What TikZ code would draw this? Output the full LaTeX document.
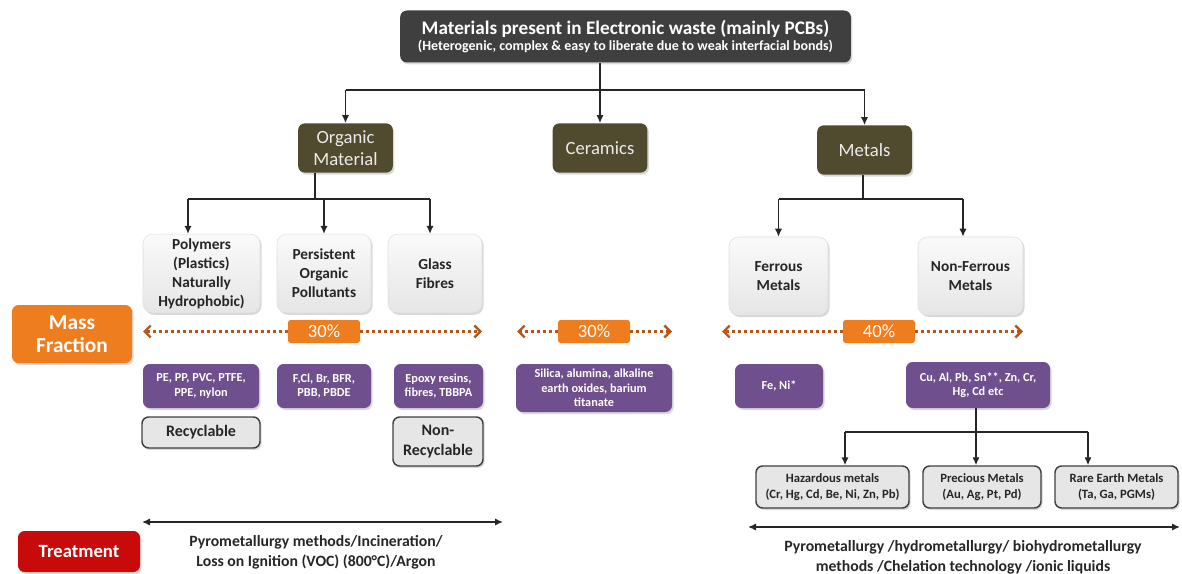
\documentclass[tikz,border=0pt]{standalone}
\usepackage{fontspec}
\setmainfont{Carlito}
\usetikzlibrary{arrows.meta,shadows,calc}
\definecolor{topgray}{HTML}{3F3F3F}
\definecolor{olive}{HTML}{504B2E}
\definecolor{purp}{HTML}{6F4F8D}
\definecolor{orng}{HTML}{EE7D1F}
\definecolor{redt}{HTML}{C80A0A}
\definecolor{dotcol}{HTML}{B4581A}
\definecolor{lgray}{HTML}{E6E6E6}
\begin{document}
\begin{tikzpicture}[x=0.75pt,y=-0.75pt,
  base/.style={rounded corners=5pt, align=center, inner sep=0pt},
  shad/.style={drop shadow={shadow xshift=1.2pt, shadow yshift=-1.5pt, opacity=0.3}},
  topbox/.style={base, shad, fill=topgray, text=white, minimum width=338pt, minimum height=39pt},
  olivebox/.style={base, shad, fill=olive, text=white!92!black, font=\fontsize{14}{16.5}\selectfont, minimum width=71pt, minimum height=37pt},
  graybox/.style={base, shad, rounded corners=7pt, draw=gray!25, top color=gray!4, bottom color=gray!20, text=black!85, font=\bfseries\fontsize{11.5}{14.2}\selectfont, minimum height=59pt},
  purplebox/.style={base, shad, fill=purp, text=white, font=\bfseries\fontsize{9.2}{11}\selectfont, minimum height=33pt},
  labelbox/.style={base, shad, fill=lgray, draw=black!75, line width=1.1pt, rounded corners=5pt, text=black!85},
  orangebox/.style={base, shad, fill=orng, text=white, font=\bfseries\fontsize{16}{17}\selectfont},
  pctbox/.style={base, fill=orng, text=white, font=\fontsize{14}{14}\selectfont, rounded corners=2pt, minimum width=54pt, minimum height=17.25pt},
  conn/.style={line width=1.1pt, black!85},
  arr/.style={conn, -{Latex[length=6pt,width=5.5pt]}},
  darr/.style={conn, {Latex[length=6pt,width=5.5pt]}-{Latex[length=6pt,width=5.5pt]}},
  dotarr/.style={draw=dotcol, line width=2.2pt, dash pattern=on 2.2pt off 2.3pt, -{Straight Barb[length=4.5pt,width=9pt,line width=1.8pt]}},
  txt/.style={align=center, inner sep=0pt, text=black!85, font=\bfseries\fontsize{11.8}{15}\selectfont}
]
\useasboundingbox (0,0) rectangle (1182,574);

% top
\node[topbox] (top) at (625.5,36.5) {{\bfseries\fontsize{14.4}{16}\selectfont Materials present in Electronic waste (mainly PCBs)}\\[0pt]{\bfseries\fontsize{10.5}{12}\selectfont (Heterogenic, complex \& easy to liberate due to weak interfacial bonds)}};

% level 1
\node[olivebox] (org) at (345.5,148) {Organic\\Material};
\node[olivebox] (cer) at (600,148) {Ceramics};
\node[olivebox] (met) at (864.5,150) {Metals};

% level 2
\node[graybox, minimum width=87.75pt] (poly) at (201.5,273.5) {Polymers\\(Plastics)\\Naturally\\Hydrophobic)};
\node[graybox, minimum width=70.5pt] (pers) at (324,273.5) {Persistent\\Organic\\Pollutants};
\node[graybox, minimum width=70.5pt] (glass) at (435,273.5) {Glass\\Fibres};
\node[graybox, minimum width=74.25pt, minimum height=58.5pt] (fer) at (778.5,276) {Ferrous\\Metals};
\node[graybox, minimum width=78.75pt, minimum height=58.5pt] (nfer) at (970.5,276) {Non-Ferrous\\Metals};

% mass fraction
\node[orangebox, minimum width=90pt, minimum height=43.5pt] (mass) at (72,334) {Mass\\Fraction};
\node[pctbox] (p1) at (324,331.5) {30\%};
\node[pctbox] (p2) at (594,331.5) {30\%};
\node[pctbox] (p3) at (879,331.5) {40\%};
\coordinate (d1l) at (143,331.5); \coordinate (d1r) at (482,331.5);
\coordinate (d2l) at (517,331.5); \coordinate (d2r) at (672,331.5);
\coordinate (d3l) at (722,331.5); \coordinate (d3r) at (1023,331.5);
\draw[dotarr] (p1.west) -- (d1l);
\draw[dotarr] (p1.east) -- (d1r);
\draw[dotarr] (p2.west) -- (d2l);
\draw[dotarr] (p2.east) -- (d2r);
\draw[dotarr] (p3.west) -- (d3l);
\draw[dotarr] (p3.east) -- (d3r);

% purple
\node[purplebox, minimum width=87pt] (pe) at (201,386) {PE, PP, PVC, PTFE,\\PPE, nylon};
\node[purplebox, minimum width=70.5pt] (fcl) at (324,386) {F,Cl, Br, BFR,\\PBB, PBDE};
\node[purplebox, minimum width=66.75pt] (epo) at (438.5,386) {Epoxy resins,\\fibres, TBBPA};
\node[purplebox, minimum width=117pt, minimum height=36pt] (sil) at (594,388) {Silica, alumina, alkaline\\earth oxides, barium\\titanate};
\node[purplebox, minimum width=66pt] (fe) at (779,386) {Fe, Ni*};
\node[purplebox, minimum width=108pt, minimum height=34.5pt] (cu) at (978,385) {Cu, Al, Pb, Sn**, Zn, Cr,\\Hg, Cd etc};

% recyclable
\node[labelbox, minimum width=88.5pt, minimum height=23.25pt, font=\bfseries\fontsize{12}{14.5}\selectfont] (rec) at (201,432.5) {Recyclable};
\node[labelbox, minimum width=67.5pt, minimum height=36.75pt, font=\bfseries\fontsize{12}{14.5}\selectfont] (nrec) at (438,441.5) {Non-\\Recyclable};

% metal classes
\node[labelbox, minimum width=114.75pt, minimum height=31.5pt, font=\bfseries\fontsize{9.5}{12}\selectfont] (haz) at (832.5,487) {Hazardous metals\\(Cr, Hg, Cd, Be, Ni, Zn, Pb)};
\node[labelbox, minimum width=88.5pt, minimum height=31.5pt, font=\bfseries\fontsize{9.5}{12}\selectfont] (prec) at (982,487) {Precious Metals\\(Au, Ag, Pt, Pd)};
\node[labelbox, minimum width=92.25pt, minimum height=31.5pt, font=\bfseries\fontsize{9.5}{12}\selectfont] (rare) at (1116.5,487) {Rare Earth Metals\\(Ta, Ga, PGMs)};

% treatment
\node[base, shad, fill=redt, text=white, font=\bfseries\fontsize{14}{16}\selectfont, minimum width=91.5pt, minimum height=30.75pt] (treat) at (79,551.5) {Treatment};
\coordinate (t1l) at (142,522); \coordinate (t1r) at (503,522);
\coordinate (t2l) at (748,527); \coordinate (t2r) at (1180,527);
\draw[darr] (t1l) -- (t1r);
\draw[darr] (t2l) -- (t2r);
\node[txt] (tl) at (316,552) {Pyrometallurgy methods/Incineration/\\Loss on Ignition (VOC) (800°C)/Argon};
\node[txt] (tr) at (963,557) {Pyrometallurgy /hydrometallurgy/ biohydrometallurgy\\methods /Chelation technology /ionic liquids};

% connectors level 0 -> 1
\coordinate (b0) at (600,90);
\draw[conn] (top.south -| b0) -- (b0);
\draw[conn] (org.north |- b0) -- (met.north |- b0);
\draw[arr] (b0) -- (cer.north);
\draw[arr] (org.north |- b0) -- (org.north);
\draw[arr] (met.north |- b0) -- (met.north);

% organic branch
\coordinate (b1) at (315,199);
\coordinate (a1) at (188,199);
\coordinate (a3) at (430,199);
\draw[conn] (org.south -| b1) -- (b1);
\draw[conn] (a1) -- (a3);
\draw[arr] (a1) -- (a1 |- poly.north);
\draw[arr] (pers.north |- b1) -- (pers.north);
\draw[arr] (a3) -- (a3 |- glass.north);

% metals branch
\coordinate (b2) at (863,199);
\coordinate (a5) at (963,199);
\draw[conn] (met.south -| b2) -- (b2);
\draw[conn] (fer.north |- b2) -- (a5);
\draw[arr] (fer.north |- b2) -- (fer.north);
\draw[arr] (a5) -- (a5 |- nfer.north);

% non-ferrous branch
\coordinate (b3) at (976,432);
\coordinate (h1) at (845,432);
\coordinate (h3) at (1088,432);
\draw[conn] (cu.south -| b3) -- (b3);
\draw[conn] (h1) -- (h3);
\draw[arr] (h1) -- (h1 |- haz.north);
\draw[arr] (b3) -- (b3 |- prec.north);
\draw[arr] (h3) -- (h3 |- rare.north);
\end{tikzpicture}
\end{document}
